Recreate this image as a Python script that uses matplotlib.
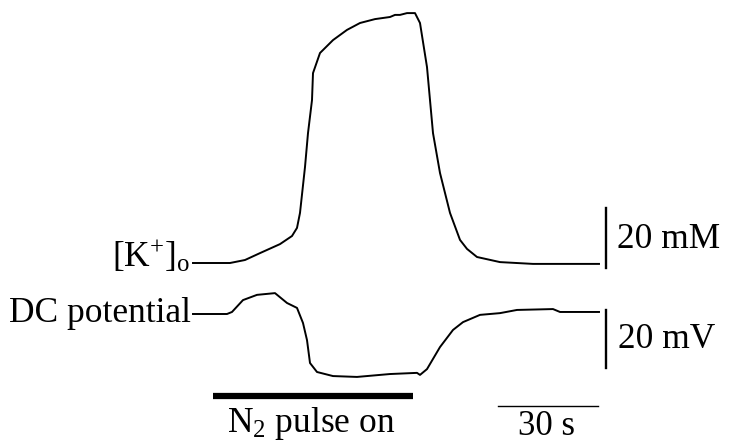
import matplotlib
matplotlib.use("Agg")
import matplotlib.pyplot as plt

# [K+]o trace: time (s from trace start) and concentration (mM)
k_time = [0, 11.1, 15.6, 20.1, 26.1, 29.7, 31.2, 32.1, 33.6, 34.5, 35.7, 36.0, 38.1,
          42.0, 46.2, 50.1, 54.6, 59.1, 60.6, 62.1, 64.2, 66.6, 68.1, 70.2, 72.0,
          74.1, 77.1, 80.1, 82.2, 85.2, 92.1, 102.0, 121.8]
k_conc = [3.0, 3.0, 4.0, 6.3, 9.3, 12.0, 14.7, 19.7, 35.0, 46.3, 57.3, 66.3, 73.0,
          77.3, 80.7, 83.0, 84.3, 85.0, 85.7, 85.7, 86.3, 86.3, 83.0, 68.3, 46.3,
          33.0, 19.7, 10.7, 7.7, 5.0, 3.3, 2.7, 2.7]

# DC potential trace: time (s) and shift (mV)
dc_time = [0, 10.2, 11.7, 15.0, 19.2, 24.6, 28.2, 31.2, 33.0, 34.2, 35.1, 37.2,
           42.0, 49.2, 59.1, 67.2, 68.1, 70.2, 74.1, 78.0, 81.0, 86.1, 92.1,
           97.2, 108.0, 110.1, 121.8]
dc_volt = [0, 0, 0.7, 4.8, 6.6, 7.2, 3.8, 2.1, -3.1, -9.0, -16.9, -20.0,
           -21.4, -21.7, -20.7, -20.3, -21.0, -19.0, -11.4, -5.5, -2.8, -0.3, 0.3,
           1.4, 1.7, 0.7, 0.7]

# N2 pulse on/off (s) and scale bar sizes
n2_on, n2_off = 6.0, 66.0
bar_mm = 20
bar_mv = 20
bar_s = 30

plt.rcParams['font.family'] = 'Liberation Serif'
plt.rcParams['mathtext.fontset'] = 'custom'
plt.rcParams['mathtext.rm'] = 'Liberation Serif'
plt.rcParams['mathtext.it'] = 'Liberation Serif:italic'

W, H = 729, 444
fig = plt.figure(figsize=(W / 100, H / 100), dpi=100)
ax_k = fig.add_axes([0, 0, 1, 1])
ax_dc = fig.add_axes([0, 0, 1, 1])
for ax in (ax_k, ax_dc):
    ax.axis('off')
    ax.set_xlim(-57.9, 160.8)
ax_k.set_ylim(3 - 181 / 3, 3 + 263 / 3)
ax_dc.set_ylim(-130 / 2.9, 314 / 2.9)

ax_k.plot(k_time, k_conc, color='black', lw=1.4)
ax_dc.plot(dc_time, dc_volt, color='black', lw=1.4)

# scale bars
bar_t = 123.9
ax_k.plot([bar_t, bar_t], [1.3, 1.3 + bar_mm], color='black', lw=1.7)
ax_dc.plot([bar_t, bar_t], [-18.6, -18.6 + bar_mv], color='black', lw=1.7)
ax_dc.plot([91.5, 91.5 + bar_s], [-31.7, -31.7], color='black', lw=1.0)
ax_dc.plot([n2_on, n2_off], [-28.3, -28.3], color='black', lw=4.5,
           solid_capstyle='butt')

fs = 25.5


def put(x, y, s, va='baseline', **kw):
    fig.text(x / W, 1 - y / H, s, fontsize=kw.pop('size', fs), va=va, **kw)


put(190, 267, r'$[\mathrm{K}^{+}]_{\mathrm{o}}$', ha='right')
put(191, 322, 'DC potential', ha='right')
put(617, 248, f'{bar_mm} mM', ha='left')
put(618, 348, f'{bar_mv} mV', ha='left')
put(227, 432, r'N$_2$ pulse on', ha='left')
put(546, 443, f'{bar_s} s', va='bottom', ha='center', size=25)

fig.savefig('out.png', dpi=100)
